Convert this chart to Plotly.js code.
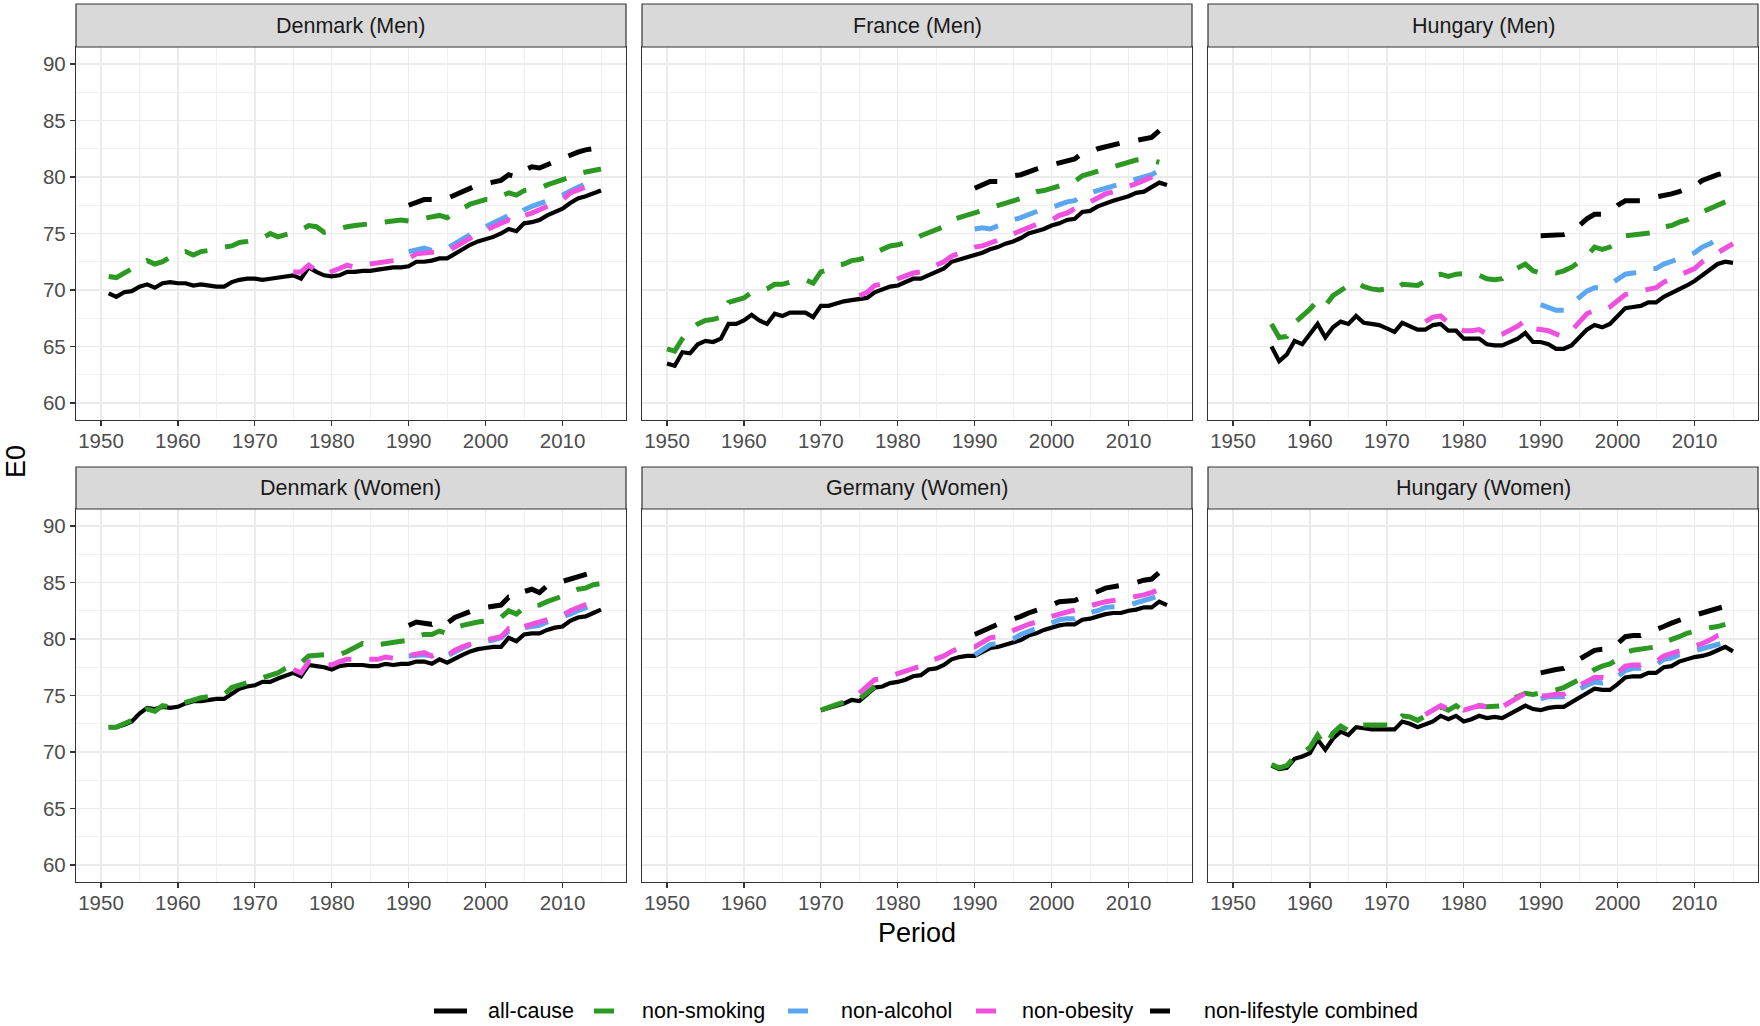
<!DOCTYPE html>
<html>
<head>
<meta charset="utf-8">
<script src="https://cdn.plot.ly/plotly-3.0.1.min.js"></script>
<style>
  html, body { margin: 0; padding: 0; background: #ffffff; }
  #chart { width: 1760px; height: 1026px; }
</style>
</head>
<body>
<div id="chart"></div>
<script>
// ---------------- DATA ----------------
const panelTitles = ["Denmark (Men)", "France (Men)", "Hungary (Men)",
                     "Denmark (Women)", "Germany (Women)", "Hungary (Women)"];
const seriesNames = ["all-cause", "non-smoking", "non-alcohol", "non-obesity", "non-lifestyle combined"];
const xTickVals = [1950, 1960, 1970, 1980, 1990, 2000, 2010];
const yTickVals = [60, 65, 70, 75, 80, 85, 90];

// Denmark (Men)
const dkm_all_start = 1951;
const dkm_all = [69.7,69.4,69.8,69.9,70.3,70.5,70.2,70.6,70.7,70.6,
  70.6,70.4,70.5,70.4,70.3,70.3,70.7,70.9,71.0,71.0,
  70.9,71.0,71.1,71.2,71.3,71.0,72.0,71.6,71.3,71.2,
  71.3,71.6,71.6,71.7,71.7,71.8,71.9,72.0,72.0,72.1,
  72.5,72.5,72.6,72.8,72.8,73.2,73.7,74.0,74.3,74.5,
  74.7,75.0,75.4,75.2,75.9,76.0,76.2,76.6,76.9,77.2,
  77.7,78.1,78.3,78.6,78.8];
const dkm_smk_start = 1951;
const dkm_smk = [71.2,71.1,71.5,71.9,72.3,72.6,72.3,72.5,72.9,73.1,
  73.4,73.1,73.4,73.5,73.7,73.8,73.9,74.2,74.3,74.5,
  74.6,75.0,74.7,74.9,75.1,75.3,75.7,75.6,75.1,75.3,
  75.4,75.6,75.7,75.8,75.9,76.0,76.1,76.2,76.2,76.1,
  76.2,76.3,76.5,76.6,76.4,76.8,77.2,77.6,77.8,78.0,
  78.0,78.3,78.6,78.4,78.8,78.9,79.0,79.3,79.5,79.7,
  80.0,80.3,80.4,80.6,80.7];
const dkm_alc_start = 1990;
const dkm_alc = [73.4,73.6,73.7,73.5,73.7,73.7,74.1,74.6,75.0,75.3,
  75.6,75.9,76.3,76.6,76.5,77.1,77.4,77.6,77.8,78.1,
  78.4,78.8,79.1,79.4,79.7];
const dkm_obe_start = 1975;
const dkm_obe = [71.6,71.6,72.2,71.7,71.4,
  71.6,71.9,72.2,72.0,72.2,72.3,72.4,72.6,72.7,72.7,
  72.8,73.2,73.3,73.3,73.4,73.4,73.8,74.3,74.7,75.0,
  75.3,75.6,75.9,76.2,76.0,76.6,76.8,77.1,77.4,77.7,
  78.0,78.6,78.8,79.1,79.4,79.7];
const dkm_com_start = 1990;
const dkm_com = [77.5,77.7,78.0,78.0,78.0,78.1,78.4,78.7,79.0,79.3,
  79.4,79.6,79.7,80.2,80.0,80.6,80.9,80.8,81.1,81.4,
  81.6,82.0,82.2,82.4,82.5];

// France (Men)
const frm_all_start = 1950;
const frm_all = [63.5,63.3,64.5,64.4,65.2,65.5,65.4,65.7,67.0,67.0,
  67.3,67.8,67.3,67.0,67.9,67.7,68.0,68.0,68.0,67.6,
  68.6,68.6,68.8,69.0,69.1,69.2,69.3,69.8,70.1,70.3,
  70.4,70.7,71.0,71.0,71.3,71.5,71.9,72.5,72.7,72.9,
  73.1,73.3,73.6,73.8,74.1,74.3,74.6,75.0,75.2,75.4,
  75.7,75.9,76.2,76.3,76.9,77.0,77.4,77.7,77.9,78.1,
  78.3,78.6,78.7,79.1,79.5,79.3];
const frm_smk_start = 1950;
const frm_smk = [64.8,64.6,65.7,66.5,67.0,67.3,67.4,67.6,68.9,69.1,
  69.3,69.8,69.9,70.1,70.5,70.5,70.7,70.8,70.9,70.6,
  71.6,71.8,72.2,72.3,72.6,72.7,72.9,73.3,73.6,73.9,
  74.0,74.2,74.4,74.8,75.1,75.3,75.6,76.2,76.4,76.6,
  76.9,77.0,77.2,77.5,77.7,77.9,78.1,78.4,78.7,78.8,
  79.0,79.3,79.5,79.6,80.1,80.3,80.6,80.8,81.0,81.2,
  81.3,81.5,81.6,81.5,81.3];
const frm_alc_start = 1990;
const frm_alc = [75.4,75.5,75.4,75.7,76.0,76.2,76.4,76.7,76.9,77.2,
  77.3,77.6,77.8,77.9,78.4,78.6,78.8,79.1,79.3,79.4,
  79.6,79.9,80.0,80.2,80.6];
const frm_obe_start = 1975;
const frm_obe = [69.5,69.8,70.4,70.5,70.7,
  71.0,71.3,71.5,71.6,71.9,72.1,72.5,73.0,73.3,73.5,
  73.8,73.9,74.1,74.4,74.7,75.0,75.3,75.6,75.8,76.0,
  76.2,76.6,76.8,77.2,77.6,77.8,78.2,78.5,78.7,78.9,
  79.1,79.4,79.7,80.0,80.5];
const frm_com_start = 1990;
const frm_com = [79.0,79.3,79.6,79.6,79.9,80.1,80.2,80.5,80.7,80.9,
  81.1,81.3,81.5,81.6,82.1,82.2,82.5,82.7,82.8,83.0,
  83.1,83.2,83.3,83.5,84.1];

// Hungary (Men)
const hum_all_start = 1955;
const hum_all = [65.0,63.7,64.3,65.5,65.2,
  66.1,67.0,65.8,66.7,67.2,67.0,67.7,67.1,67.0,66.9,
  66.6,66.3,67.1,66.8,66.5,66.5,66.9,67.0,66.4,66.4,
  65.7,65.7,65.7,65.2,65.1,65.1,65.4,65.7,66.2,65.4,
  65.4,65.2,64.8,64.8,65.1,65.8,66.5,66.9,66.7,67.0,
  67.7,68.4,68.5,68.6,68.9,68.9,69.4,69.7,70.1,70.4,
  70.8,71.3,71.8,72.3,72.5,72.4];
const hum_smk_start = 1955;
const hum_smk = [67.0,65.8,65.9,67.1,67.7,
  68.3,69.1,68.6,69.5,70.0,70.4,70.7,70.3,70.1,70.0,
  70.1,70.0,70.5,70.4,70.4,70.8,71.3,71.4,71.2,71.4,
  71.4,71.5,71.3,71.0,70.9,71.0,71.6,71.9,72.3,71.7,
  71.5,71.6,71.5,71.7,72.0,72.5,73.0,73.8,73.6,73.8,
  74.2,74.8,74.9,74.9,75.1,75.1,75.6,75.7,76.0,76.2,
  76.6,76.9,77.3,77.5,77.8];
const hum_alc_start = 1990;
const hum_alc = [68.7,68.5,68.2,68.2,68.8,69.3,69.9,70.2,70.2,70.5,
  71.0,71.4,71.5,71.6,71.9,71.9,72.3,72.5,72.8,73.0,
  73.3,73.8,74.1,74.5,74.9];
const hum_obe_start = 1975;
const hum_obe = [67.2,67.6,67.7,67.1,66.7,
  66.4,66.4,66.5,66.1,65.9,66.1,66.4,66.8,67.3,66.6,
  66.5,66.4,66.1,65.9,66.4,67.1,67.9,68.2,68.2,68.5,
  69.1,69.6,69.8,69.9,70.1,70.2,70.7,71.0,71.3,71.6,
  71.9,72.5,72.9,73.3,73.6,74.1];
const hum_com_start = 1990;
const hum_com = [74.8,74.8,74.9,74.9,75.1,75.7,76.3,76.7,76.7,76.9,
  77.5,77.9,77.9,77.9,78.1,78.2,78.4,78.5,78.7,79.0,
  79.2,79.7,80.0,80.2,80.4];

// Denmark (Women)
const dkw_all_start = 1951;
const dkw_all = [72.2,72.2,72.4,72.7,73.4,73.9,73.8,74.0,73.9,74.0,
  74.3,74.5,74.5,74.6,74.7,74.7,75.2,75.6,75.8,75.9,
  76.2,76.2,76.5,76.8,77.0,76.7,77.7,77.6,77.5,77.3,
  77.6,77.7,77.7,77.7,77.6,77.6,77.8,77.7,77.8,77.8,
  78.0,78.0,77.8,78.2,77.9,78.3,78.6,78.9,79.1,79.2,
  79.3,79.3,80.1,79.8,80.4,80.5,80.5,80.8,81.0,81.1,
  81.6,81.9,82.0,82.3,82.6];
const dkw_smk_start = 1951;
const dkw_smk = [72.2,72.2,72.5,72.8,73.3,73.8,73.6,74.1,74.0,74.2,
  74.5,74.7,74.8,74.9,75.0,75.1,75.7,75.9,76.2,76.4,
  76.6,76.7,77.0,77.4,77.7,77.9,78.5,78.6,78.6,78.5,
  78.6,78.9,79.3,79.6,79.4,79.5,79.6,79.8,79.8,79.9,
  80.2,80.4,80.4,80.7,80.5,81.0,81.2,81.4,81.5,81.6,
  81.7,81.9,82.5,82.2,82.8,82.9,83.0,83.3,83.5,83.8,
  84.1,84.4,84.5,84.8,84.9];
const dkw_alc_start = 1990;
const dkw_alc = [78.5,78.6,78.6,78.5,78.8,78.5,78.9,79.2,79.5,79.6,
  79.8,79.9,80.1,80.7,80.5,81.0,81.1,81.2,81.5,81.7,
  81.9,82.2,82.5,82.8,83.0];
const dkw_obe_start = 1975;
const dkw_obe = [77.3,77.0,78.0,77.9,77.8,
  77.7,78.0,78.2,78.2,78.2,78.1,78.2,78.4,78.3,78.4,
  78.5,78.7,78.8,78.5,78.8,78.5,79.0,79.3,79.6,79.8,
  79.9,80.1,80.2,80.9,80.6,81.1,81.3,81.4,81.7,81.9,
  82.1,82.5,82.8,83.0,83.3,83.5];
const dkw_com_start = 1990;
const dkw_com = [81.2,81.5,81.4,81.3,81.7,81.4,81.9,82.2,82.5,82.7,
  82.8,82.9,83.0,83.7,83.6,84.2,84.4,84.1,84.7,84.9,
  85.1,85.4,85.6,85.7,85.9];

// Germany (Women)
const dew_all_start = 1970;
const dew_all = [73.7,73.9,74.1,74.3,74.6,74.5,75.1,75.7,75.8,76.1,
  76.2,76.4,76.7,76.8,77.3,77.4,77.7,78.2,78.4,78.5,
  78.5,78.8,79.2,79.3,79.5,79.7,79.9,80.3,80.5,80.8,
  81.0,81.2,81.3,81.3,81.7,81.8,82.0,82.2,82.3,82.3,
  82.5,82.6,82.8,82.8,83.3,83.0];
const dew_smk_start = 1970;
const dew_smk = [73.7,74.0,74.2,74.4,74.7,74.7,75.2,75.8];
const dew_alc_start = 1990;
const dew_alc = [78.6,79.1,79.5,79.6,79.8,80.0,80.4,80.7,81.0,81.2,
  81.4,81.7,81.8,81.8,82.2,82.3,82.5,82.8,82.8,82.9,
  83.0,83.2,83.3,83.5,83.8];
const dew_obe_start = 1975;
const dew_obe = [75.2,75.8,76.4,76.5,76.7,
  77.0,77.1,77.3,77.6,78.0,78.2,78.5,78.9,79.2,79.3,
  79.3,79.7,80.1,80.2,80.5,80.8,81.0,81.3,81.5,81.8,
  82.0,82.2,82.4,82.5,82.8,83.0,83.2,83.3,83.4,83.5,
  83.6,83.7,83.9,84.1,84.4,84.2];
const dew_com_start = 1990;
const dew_com = [80.4,80.7,81.1,81.3,81.5,81.7,82.0,82.3,82.5,82.8,
  83.0,83.3,83.4,83.4,83.7,83.9,84.2,84.5,84.6,84.7,
  84.8,85.0,85.2,85.3,85.9];

// Hungary (Women)
const huw_all_start = 1955;
const huw_all = [68.8,68.5,68.6,69.4,69.6,
  69.9,71.1,70.2,71.2,71.8,71.5,72.2,72.1,72.0,72.0,
  72.0,72.0,72.7,72.5,72.2,72.5,72.7,73.2,72.9,73.2,
  72.7,72.9,73.2,73.0,73.1,73.0,73.4,73.7,74.1,73.8,
  73.7,73.9,74.0,74.0,74.4,74.8,75.2,75.6,75.5,75.5,
  76.0,76.6,76.7,76.7,77.0,77.0,77.5,77.6,78.0,78.2,
  78.4,78.5,78.7,79.0,79.3,78.9];
const huw_smk_start = 1955;
const huw_smk = [68.9,68.6,68.8,69.6,69.9,
  70.4,71.5,70.5,71.7,72.3,71.9,72.4,72.4,72.4,72.5,
  72.5,72.4,73.2,73.1,72.8,73.2,73.4,74.0,73.7,74.1,
  73.6,73.9,74.1,74.0,74.0,74.1,74.6,74.9,75.2,75.1,
  75.2,75.4,75.5,75.7,76.0,76.4,76.8,77.3,77.6,77.8,
  78.2,78.8,79.0,79.1,79.2,79.3,79.7,79.9,80.2,80.5,
  80.7,80.8,81.0,81.1,81.3];
const huw_alc_start = 1990;
const huw_alc = [74.7,74.9,74.9,74.9,75.2,75.6,75.9,76.2,76.1,76.2,
  76.7,77.2,77.4,77.4,77.6,77.7,78.2,78.3,78.6,78.8,
  79.0,79.1,79.3,79.5,79.7];
const huw_obe_start = 1975;
const huw_obe = [73.3,73.7,74.1,73.8,74.0,
  73.7,73.9,74.1,74.0,74.0,74.0,74.4,74.8,75.2,74.9,
  74.9,75.0,75.1,75.1,75.5,75.9,76.2,76.6,76.6,76.5,
  77.0,77.6,77.7,77.7,78.0,78.0,78.5,78.7,79.0,79.2,
  79.4,79.6,79.9,80.3,80.5];
const huw_com_start = 1990;
const huw_com = [77.0,77.2,77.3,77.4,77.8,78.2,78.6,79.0,79.1,79.1,
  79.6,80.2,80.3,80.3,80.6,80.8,81.1,81.4,81.7,81.9,
  82.1,82.3,82.5,82.7,82.9];

// ---------------- BUILD ----------------
const panelData = [
  [[dkm_all_start, dkm_all], [dkm_smk_start, dkm_smk], [dkm_alc_start, dkm_alc], [dkm_obe_start, dkm_obe], [dkm_com_start, dkm_com]],
  [[frm_all_start, frm_all], [frm_smk_start, frm_smk], [frm_alc_start, frm_alc], [frm_obe_start, frm_obe], [frm_com_start, frm_com]],
  [[hum_all_start, hum_all], [hum_smk_start, hum_smk], [hum_alc_start, hum_alc], [hum_obe_start, hum_obe], [hum_com_start, hum_com]],
  [[dkw_all_start, dkw_all], [dkw_smk_start, dkw_smk], [dkw_alc_start, dkw_alc], [dkw_obe_start, dkw_obe], [dkw_com_start, dkw_com]],
  [[dew_all_start, dew_all], [dew_smk_start, dew_smk], [dew_alc_start, dew_alc], [dew_obe_start, dew_obe], [dew_com_start, dew_com]],
  [[huw_all_start, huw_all], [huw_smk_start, huw_smk], [huw_alc_start, huw_alc], [huw_obe_start, huw_obe], [huw_com_start, huw_com]]
];

const seriesStyle = [
  {color: "#000000", width: 4.2, dash: "solid"},
  {color: "#2C9A22", width: 5, dash: "24px,18px"},
  {color: "#5AA6F0", width: 5, dash: "24px,18px"},
  {color: "#F050E0", width: 5, dash: "24px,18px"},
  {color: "#000000", width: 5, dash: "24px,19px"}
];

function yearsFrom(start, n) {
  const out = [];
  for (let i = 0; i < n; i++) out.push(start + i);
  return out;
}

const W = 1760, H = 1026;
const colX = [[76, 626], [642, 1192], [1208, 1758]];
const rowPlotY = [[47, 420], [509, 882]];
const rowStripY = [[4, 47], [467, 509]];
const FONT = "Liberation Sans, Arial, Helvetica, sans-serif";

const traces = [];
const layout = {
  width: W, height: H,
  margin: {l: 0, r: 0, t: 0, b: 0, pad: 0},
  paper_bgcolor: "#ffffff",
  plot_bgcolor: "#ffffff",
  font: {family: FONT, size: 20, color: "#000000"},
  showlegend: false,
  shapes: [],
  annotations: []
};

for (let p = 0; p < 6; p++) {
  const row = Math.floor(p / 3), col = p % 3;
  const suffix = p === 0 ? "" : String(p + 1);
  const xd = [colX[col][0] / W, colX[col][1] / W];
  const yd = [1 - rowPlotY[row][1] / H, 1 - rowPlotY[row][0] / H];

  layout["xaxis" + suffix] = {
    domain: xd, anchor: "y" + suffix,
    range: [1946.75, 2018.25],
    tickmode: "array", tickvals: xTickVals, ticktext: xTickVals.map(String),
    ticks: "outside", ticklen: 5, tickwidth: 1.2, tickcolor: "#333333",
    ticklabelstandoff: -3,
    tickfont: {size: 20.5, color: "#4D4D4D"},
    showgrid: true, gridcolor: "#EBEBEB", gridwidth: 1.4,
    minor: {tickmode: "array", tickvals: [1955, 1965, 1975, 1985, 1995, 2005, 2015], showgrid: true, gridcolor: "#F0F0F0", gridwidth: 0.9, ticks: ""},
    showline: true, mirror: true, linecolor: "#333333", linewidth: 1.2,
    zeroline: false, fixedrange: true
  };
  layout["yaxis" + suffix] = {
    domain: yd, anchor: "x" + suffix,
    range: [58.5, 91.5],
    tickmode: "array", tickvals: yTickVals, ticktext: yTickVals.map(String),
    ticks: col === 0 ? "outside" : "", ticklen: 5, tickwidth: 1.2, tickcolor: "#333333",
    showticklabels: col === 0,
    tickfont: {size: 20.5, color: "#4D4D4D"},
    showgrid: true, gridcolor: "#EBEBEB", gridwidth: 1.4,
    minor: {tickmode: "array", tickvals: [62.5, 67.5, 72.5, 77.5, 82.5, 87.5], showgrid: true, gridcolor: "#F0F0F0", gridwidth: 0.9, ticks: ""},
    showline: true, mirror: true, linecolor: "#333333", linewidth: 1.2,
    zeroline: false, fixedrange: true
  };

  // strip
  layout.shapes.push({
    type: "rect", xref: "paper", yref: "paper",
    x0: xd[0], x1: xd[1],
    y0: 1 - rowStripY[row][1] / H, y1: 1 - rowStripY[row][0] / H,
    fillcolor: "#D9D9D9", line: {color: "#333333", width: 1.2}, layer: "above"
  });
  layout.annotations.push({
    xref: "paper", yref: "paper",
    x: (xd[0] + xd[1]) / 2,
    y: 1 - (rowStripY[row][0] + rowStripY[row][1]) / 2 / H,
    xanchor: "center", yanchor: "middle",
    text: panelTitles[p], showarrow: false,
    font: {size: 21.5, color: "#1A1A1A"}
  });

  for (let s = 0; s < 5; s++) {
    const [start, vals] = panelData[p][s];
    traces.push({
      type: "scatter", mode: "lines",
      x: yearsFrom(start, vals.length), y: vals,
      xaxis: "x" + suffix, yaxis: "y" + suffix,
      name: seriesNames[s], legendgroup: seriesNames[s],
      showlegend: false,
      line: {color: seriesStyle[s].color, width: seriesStyle[s].width, dash: seriesStyle[s].dash},
      hoverinfo: "skip"
    });
  }
}

// axis titles
layout.annotations.push({
  xref: "paper", yref: "paper", x: 16 / W, y: 1 - 462 / H,
  xanchor: "center", yanchor: "middle", textangle: -90,
  text: "E0", showarrow: false, font: {size: 27, color: "#000000"}
});
layout.annotations.push({
  xref: "paper", yref: "paper", x: 917 / W, y: 1 - 933 / H,
  xanchor: "center", yanchor: "middle",
  text: "Period", showarrow: false, font: {size: 27, color: "#000000"}
});

// legend (drawn as keys + labels at the bottom)
const legendY = 1 - 1011 / H;
const legendKeys = [[434, 467], [594, 614], [788, 808], [976, 996], [1150, 1170]];
const legendTextX = [486, 640, 839, 1020, 1202];
for (let s = 0; s < 5; s++) {
  layout.shapes.push({
    type: "line", xref: "paper", yref: "paper",
    x0: legendKeys[s][0] / W, x1: legendKeys[s][1] / W, y0: legendY, y1: legendY,
    line: {color: seriesStyle[s].color, width: 5}
  });
  layout.annotations.push({
    xref: "paper", yref: "paper", x: legendTextX[s] / W, y: legendY,
    xanchor: "left", yanchor: "middle",
    text: seriesNames[s], showarrow: false,
    font: {size: 21.5, color: "#000000"}
  });
}

Plotly.newPlot("chart", traces, layout, {displayModeBar: false, staticPlot: true});
</script>
</body>
</html>
